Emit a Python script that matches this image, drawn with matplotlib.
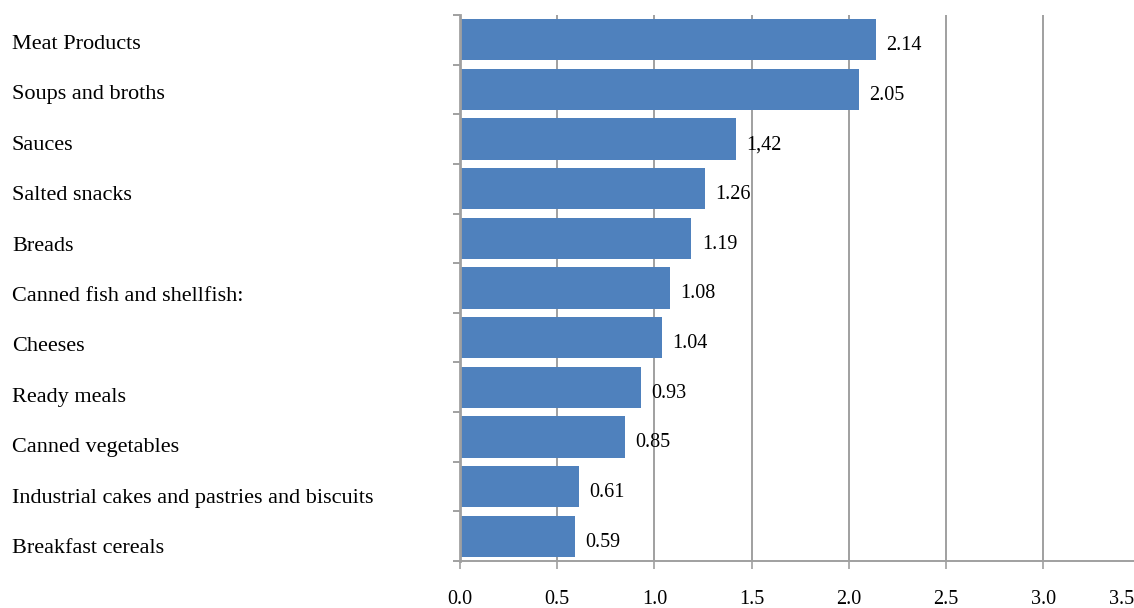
import matplotlib
matplotlib.use("Agg")
import matplotlib.pyplot as plt
from matplotlib.ticker import FixedLocator, NullFormatter
from matplotlib.transforms import ScaledTranslation

categories = [
    "Meat Products",
    "Soups and broths",
    "Sauces",
    "Salted snacks",
    "Breads",
    "Canned fish and shellfish:",
    "Cheeses",
    "Ready meals",
    "Canned vegetables",
    "Industrial cakes and pastries and biscuits",
    "Breakfast cereals",
]
values = [2.14, 2.05, 1.42, 1.26, 1.19, 1.08, 1.04, 0.93, 0.85, 0.61, 0.59]
value_labels = ["2.14", "2.05", "1,42", "1.26", "1.19", "1.08", "1.04",
                "0.93", "0.85", "0.61", "0.59"]
x_ticks = [0.0, 0.5, 1.0, 1.5, 2.0, 2.5, 3.0, 3.5]

plt.rcParams["font.family"] = ["Liberation Serif", "DejaVu Serif"]

W, H = 1134, 608
DPI = 100
fig = plt.figure(figsize=(W / DPI, H / DPI), dpi=DPI)
ax = fig.add_axes([460 / W, 47 / H, 680.5 / W, 546 / H])

bar_color = "#4f81bd"
grid_color = "#a0a0a0"

n = len(categories)
ypos = list(range(n))
ax.barh(ypos, values, height=0.83, color=bar_color, zorder=3)

ax.set_xlim(0, 3.5)
ax.set_ylim(n - 0.5, -0.5)

# value annotations to the right of each bar
for y, v, lab in zip(ypos, values, value_labels):
    ax.annotate(lab, xy=(v, y), xytext=(7.5, -2.5), textcoords="offset points",
                ha="left", va="center_baseline", fontsize=14.5, color="black")

# x axis
ax.set_xticks(x_ticks)
ax.set_xticklabels([f"{t:.1f}" for t in x_ticks], fontsize=14.5)
ax.tick_params(axis="x", length=6, width=1.2, color=grid_color, pad=15)
ax.xaxis.grid(True, color=grid_color, linewidth=1.4, zorder=0)
# keep the last tick label inside the canvas
last = ax.get_xticklabels()[-1]
last.set_transform(last.get_transform()
                   + ScaledTranslation(-19 / DPI, 0, fig.dpi_scale_trans))

# y axis: labels at category centres, tick marks at category boundaries
ax.set_yticks(ypos)
ax.set_yticklabels(categories, fontsize=16, ha="left", va="center_baseline")
ax.tick_params(axis="y", which="major", length=0, pad=448 * 0.72)
# the label column is spaced a little wider than the bar rows
for i, lab in enumerate(ax.get_yticklabels()):
    dy = (2 + 0.8 * i) / DPI
    lab.set_transform(lab.get_transform()
                      + ScaledTranslation(0, -dy, fig.dpi_scale_trans))
ax.yaxis.set_minor_locator(FixedLocator([i - 0.5 for i in range(n + 1)]))
ax.yaxis.set_minor_formatter(NullFormatter())
ax.tick_params(axis="y", which="minor", length=5, width=1.4, color=grid_color)

for side in ("top", "right"):
    ax.spines[side].set_visible(False)
ax.spines["left"].set_color(grid_color)
ax.spines["left"].set_linewidth(2)
ax.spines["left"].set_zorder(4)
ax.spines["bottom"].set_color(grid_color)
ax.spines["bottom"].set_linewidth(1.4)

fig.savefig("out.png", dpi=DPI)
